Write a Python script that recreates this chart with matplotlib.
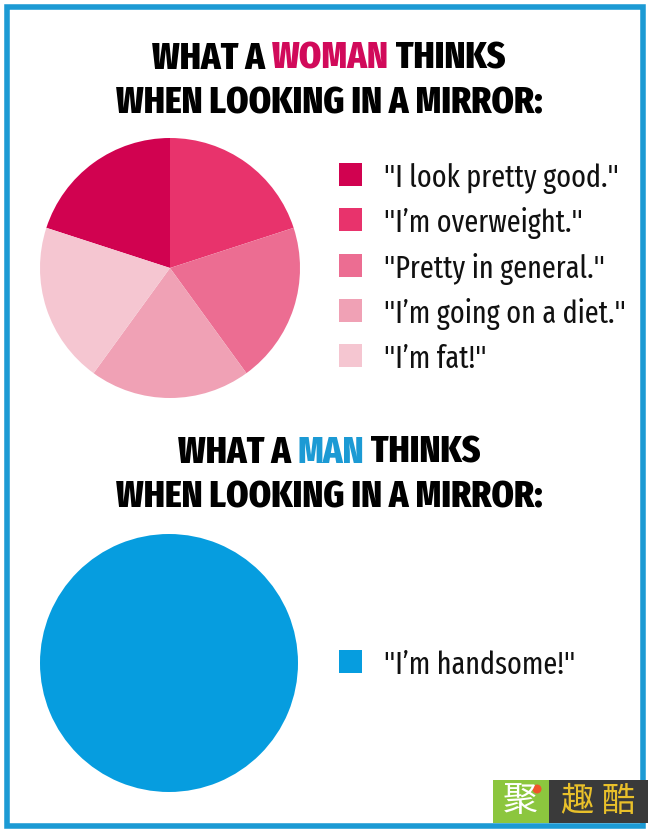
import matplotlib
matplotlib.use('Agg')
import matplotlib.pyplot as plt
from matplotlib import font_manager as fm
from matplotlib.patches import Rectangle, Circle

W, H = 650, 833

# data
woman_labels = ['"I look pretty good."', '"I\u2019m overweight."', '"Pretty in general."',
                '"I\u2019m going on a diet."', '"I\u2019m fat!"']
woman_values = [20, 20, 20, 20, 20]
woman_colors = ['#d10250', '#e8336c', '#ec6d92', '#f0a1b5', '#f5c6d1']
man_labels = ['"I\u2019m handsome!"']
man_values = [100]
man_colors = ['#069ddf']

BLUE = '#1c9ad4'
PINK = '#d10a5a'

installed = {f.name for f in fm.fontManager.ttflist}


def pick(cands):
    got = [c for c in cands if c in installed]
    return got + ['DejaVu Sans']


TITLE_FONT = pick(['Fira Sans Extra Condensed', 'Fira Sans Condensed', 'Roboto Condensed',
                   'Barlow Condensed', 'PT Sans Narrow', 'Liberation Sans Narrow'])
TEXT_FONT = pick(['Fira Sans Extra Condensed', 'Fira Sans Condensed', 'Roboto Condensed',
                  'Barlow Condensed', 'PT Sans Narrow', 'Liberation Sans Narrow'])
CJK = ['Noto Sans CJK SC', 'Noto Sans CJK JP', 'DejaVu Sans']

fig = plt.figure(figsize=(W / 100, H / 100), dpi=100)
bg = fig.add_axes([0, 0, 1, 1])
bg.set_xlim(0, W)
bg.set_ylim(H, 0)
bg.axis('off')

# frame
bg.add_patch(Rectangle((7, 6.5), 636, 819, fill=False, ec=BLUE, lw=4))


def title(y, parts, size=27.8):
    r = fig.canvas.get_renderer()
    ts = []
    for s, c in parts:
        t = bg.text(0, y, s, color=c, fontsize=size, fontweight=800,
                    family=TITLE_FONT[:1], va='baseline', ha='left')
        ts.append(t)
    widths = [t.get_window_extent(r).width for t in ts]
    x = W / 2 + 4 - sum(widths) / 2
    for t, w in zip(ts, widths):
        t.set_x(x)
        x += w


title(68.5, [('WHAT A ', 'black'), ('WOMAN', PINK), (' THINKS', 'black')])
title(113, [('WHEN LOOKING IN A MIRROR:', 'black')])
title(462.5, [('WHAT A ', 'black'), ('MAN', BLUE), (' THINKS', 'black')])
title(507, [('WHEN LOOKING IN A MIRROR:', 'black')])


def pie(cx, cy, r, vals, cols, start):
    ax = fig.add_axes([(cx - r) / W, (H - cy - r) / H, 2 * r / W, 2 * r / H])
    ax.pie(vals, colors=cols, startangle=start, counterclock=False,
           radius=1, wedgeprops=dict(lw=0))
    ax.set_xlim(-1, 1)
    ax.set_ylim(-1, 1)
    ax.axis('off')


pie(170, 268, 130, woman_values, woman_colors, 162)
pie(169, 663, 129, man_values, man_colors, 90)


def legend(x, y0, dy, labels, cols):
    for i, (lab, c) in enumerate(zip(labels, cols)):
        y = y0 + i * dy
        bg.add_patch(Rectangle((x, y - 12), 23, 23, fc=c, ec='none'))
        bg.text(x + 45, y + 12, lab, fontsize=22, family=TEXT_FONT[:1],
                va='baseline', ha='left', color='#111111')


legend(338.5, 175, 45.3, woman_labels, woman_colors)
legend(338.5, 662, 45, man_labels, man_colors)

# watermark
bg.add_patch(Rectangle((493, 780), 56, 43, fc='#8cc63e', ec='none'))
bg.add_patch(Rectangle((549, 780), 99, 43, fc='#3a3a3a', ec='none'))
bg.text(520, 802, '\u805a', fontsize=25, color='white', ha='center', va='center',
        family=CJK)
bg.add_patch(Circle((537, 789), 4.5, fc='#f0552a', ec='none'))
bg.text(598, 802, '\u8da3 \u9177', fontsize=24, color='#e9c02a', ha='center',
        va='center', family=CJK)

fig.savefig('out.png', dpi=100)
